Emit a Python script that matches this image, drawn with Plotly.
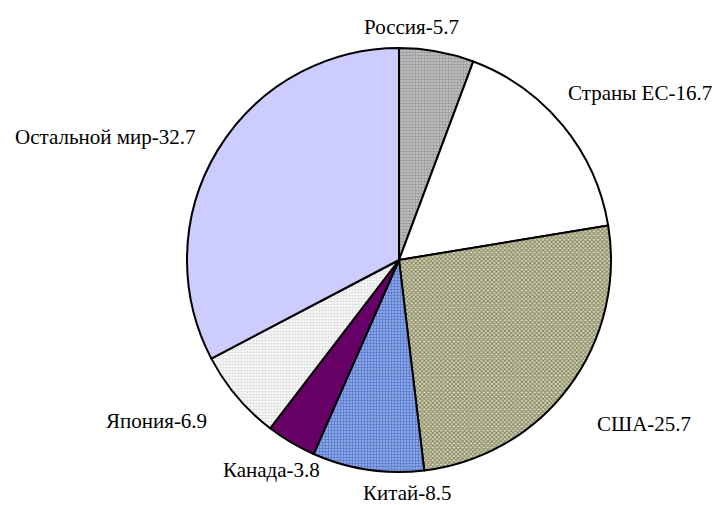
import plotly.graph_objects as go

# Shares by region (%), clockwise from 12 o'clock
regions = ["Россия", "Страны ЕС", "США", "Китай", "Канада", "Япония", "Остальной мир"]
shares = [5.7, 16.7, 25.7, 8.5, 3.8, 6.9, 32.7]

bg_colors = ["#c8c8c8", "#ffffff", "#d8d8b0", "#8aa6e6", "#660066", "#ffffff", "#ccccff"]
fg_colors = ["#6a6a6a", "#ffffff", "#2a2a20", "#3a5cb8", "#660066", "#c0c0c0", "#ccccff"]
shapes = [".", "", "x", "+", "", ".", ""]

labels_text = [f"{r}-{v}" for r, v in zip(regions, shares)]

W, H = 716, 505
cx, cy, r = 399, 260, 212

# label anchor points in pixels (x, y, xanchor), one per region
label_pos = [
    (411, 27, "center"),
    (566, 93, "left"),
    (595, 424, "left"),
    (407, 493, "center"),
    (271, 470, "center"),
    (209, 421, "right"),
    (197, 137, "right"),
]

serif = "Liberation Serif"

fig = go.Figure(go.Pie(
    labels=regions,
    values=shares,
    textinfo="none",
    sort=False,
    direction="clockwise",
    rotation=0,
    hole=0,
    marker=dict(
        colors=bg_colors,
        line=dict(color="black", width=2),
        pattern=dict(shape=shapes, fgcolor=fg_colors, bgcolor=bg_colors,
                     size=3, solidity=0.55, fillmode="overlay"),
    ),
    domain=dict(x=[(cx - r) / W, (cx + r) / W], y=[1 - (cy + r) / H, 1 - (cy - r) / H]),
    showlegend=False,
    hoverinfo="label+value",
))

for txt, (px, py, anchor) in zip(labels_text, label_pos):
    fig.add_annotation(
        text=txt, xref="paper", yref="paper",
        x=px / W, y=1 - py / H, xanchor=anchor, yanchor="middle",
        showarrow=False,
        font=dict(family=serif, size=21, color="black"),
    )

fig.update_layout(
    width=W, height=H,
    margin=dict(l=0, r=0, t=0, b=0),
    paper_bgcolor="white",
    plot_bgcolor="white",
    font=dict(family=serif),
)

fig.write_html("out.html")
